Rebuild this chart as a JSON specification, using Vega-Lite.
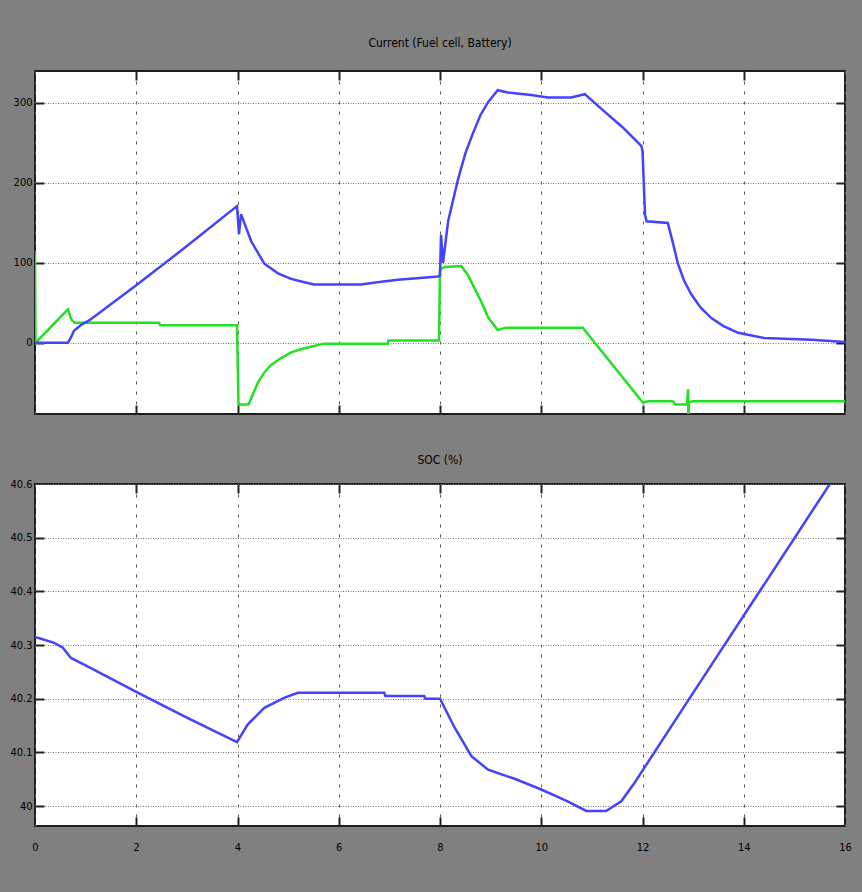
{
  "$schema": "https://vega.github.io/schema/vega-lite/v6.json",
  "background": "#808080",
  "padding": {"left": 7, "top": 36, "right": 18, "bottom": 28},
  "spacing": 35,
  "config": {
    "view": {"stroke": "#1e1e1e", "strokeWidth": 2, "fill": "white"},
    "font": "Liberation Sans Narrow, DejaVu Sans Condensed, Arial Narrow, sans-serif",
    "title": {"fontSize": 12, "fontWeight": "normal", "color": "#000", "anchor": "middle", "frame": "group", "font": "Liberation Sans Narrow, DejaVu Sans Condensed, sans-serif"},
    "axis": {"labelFont": "Liberation Sans Narrow, DejaVu Sans Condensed, sans-serif", "labelFontSize": 11, "labelColor": "#000", "title": null, "domain": false, "ticks": false}
  },
  "datasets": {
    "current": [
      {"t": 0, "value": 115, "series": "Battery"},
      {"t": 0.01, "value": 0, "series": "Battery"},
      {"t": 0.65, "value": 42, "series": "Battery"},
      {"t": 0.72, "value": 29, "series": "Battery"},
      {"t": 0.78, "value": 25, "series": "Battery"},
      {"t": 2.45, "value": 25, "series": "Battery"},
      {"t": 2.47, "value": 22, "series": "Battery"},
      {"t": 3.99, "value": 22, "series": "Battery"},
      {"t": 4.02, "value": -77, "series": "Battery"},
      {"t": 4.22, "value": -77, "series": "Battery"},
      {"t": 4.3, "value": -65, "series": "Battery"},
      {"t": 4.4, "value": -50, "series": "Battery"},
      {"t": 4.53, "value": -37, "series": "Battery"},
      {"t": 4.66, "value": -28, "series": "Battery"},
      {"t": 4.86, "value": -19, "series": "Battery"},
      {"t": 5.06, "value": -12, "series": "Battery"},
      {"t": 5.3, "value": -7, "series": "Battery"},
      {"t": 5.51, "value": -4, "series": "Battery"},
      {"t": 5.71, "value": -1, "series": "Battery"},
      {"t": 6.97, "value": -1, "series": "Battery"},
      {"t": 6.98, "value": 3, "series": "Battery"},
      {"t": 7.98, "value": 3, "series": "Battery"},
      {"t": 8.0, "value": 92, "series": "Battery"},
      {"t": 8.1, "value": 95, "series": "Battery"},
      {"t": 8.42, "value": 96, "series": "Battery"},
      {"t": 8.55, "value": 85, "series": "Battery"},
      {"t": 8.7, "value": 66, "series": "Battery"},
      {"t": 8.81, "value": 52, "series": "Battery"},
      {"t": 8.95, "value": 32, "series": "Battery"},
      {"t": 9.14, "value": 16, "series": "Battery"},
      {"t": 9.3, "value": 19, "series": "Battery"},
      {"t": 10.82, "value": 19, "series": "Battery"},
      {"t": 12.01, "value": -75, "series": "Battery"},
      {"t": 12.1, "value": -73, "series": "Battery"},
      {"t": 12.6, "value": -73, "series": "Battery"},
      {"t": 12.65, "value": -77, "series": "Battery"},
      {"t": 12.88, "value": -77, "series": "Battery"},
      {"t": 12.9, "value": -58, "series": "Battery"},
      {"t": 12.905, "value": -92, "series": "Battery"},
      {"t": 12.92, "value": -74, "series": "Battery"},
      {"t": 13.0, "value": -73, "series": "Battery"},
      {"t": 16, "value": -73, "series": "Battery"},
      {"t": 0, "value": 0, "series": "Fuel cell"},
      {"t": 0.65, "value": 0, "series": "Fuel cell"},
      {"t": 0.72, "value": 8, "series": "Fuel cell"},
      {"t": 0.77, "value": 15, "series": "Fuel cell"},
      {"t": 0.9, "value": 22, "series": "Fuel cell"},
      {"t": 1.07, "value": 28, "series": "Fuel cell"},
      {"t": 2, "value": 72, "series": "Fuel cell"},
      {"t": 3, "value": 121, "series": "Fuel cell"},
      {"t": 3.99, "value": 171, "series": "Fuel cell"},
      {"t": 4.03, "value": 136, "series": "Fuel cell"},
      {"t": 4.07, "value": 161, "series": "Fuel cell"},
      {"t": 4.27, "value": 127, "series": "Fuel cell"},
      {"t": 4.53, "value": 99, "series": "Fuel cell"},
      {"t": 4.8, "value": 87, "series": "Fuel cell"},
      {"t": 5.06, "value": 80, "series": "Fuel cell"},
      {"t": 5.3, "value": 76, "series": "Fuel cell"},
      {"t": 5.51, "value": 73, "series": "Fuel cell"},
      {"t": 6.44, "value": 73, "series": "Fuel cell"},
      {"t": 6.8, "value": 76, "series": "Fuel cell"},
      {"t": 7.17, "value": 79, "series": "Fuel cell"},
      {"t": 7.6, "value": 81, "series": "Fuel cell"},
      {"t": 7.96, "value": 83, "series": "Fuel cell"},
      {"t": 8.0, "value": 84, "series": "Fuel cell"},
      {"t": 8.02, "value": 135, "series": "Fuel cell"},
      {"t": 8.06, "value": 100, "series": "Fuel cell"},
      {"t": 8.16, "value": 152, "series": "Fuel cell"},
      {"t": 8.35, "value": 203, "series": "Fuel cell"},
      {"t": 8.5, "value": 237, "series": "Fuel cell"},
      {"t": 8.65, "value": 262, "series": "Fuel cell"},
      {"t": 8.8, "value": 285, "series": "Fuel cell"},
      {"t": 8.95, "value": 301, "series": "Fuel cell"},
      {"t": 9.14, "value": 316, "series": "Fuel cell"},
      {"t": 9.34, "value": 313, "series": "Fuel cell"},
      {"t": 9.8, "value": 310, "series": "Fuel cell"},
      {"t": 10.13, "value": 307, "series": "Fuel cell"},
      {"t": 10.59, "value": 307, "series": "Fuel cell"},
      {"t": 10.86, "value": 311, "series": "Fuel cell"},
      {"t": 11.2, "value": 292, "series": "Fuel cell"},
      {"t": 11.6, "value": 270, "series": "Fuel cell"},
      {"t": 11.98, "value": 246, "series": "Fuel cell"},
      {"t": 12.0, "value": 240, "series": "Fuel cell"},
      {"t": 12.05, "value": 160, "series": "Fuel cell"},
      {"t": 12.08, "value": 152, "series": "Fuel cell"},
      {"t": 12.5, "value": 150, "series": "Fuel cell"},
      {"t": 12.6, "value": 125, "series": "Fuel cell"},
      {"t": 12.7, "value": 99, "series": "Fuel cell"},
      {"t": 12.82, "value": 78, "series": "Fuel cell"},
      {"t": 12.96, "value": 61, "series": "Fuel cell"},
      {"t": 13.15, "value": 44, "series": "Fuel cell"},
      {"t": 13.36, "value": 31, "series": "Fuel cell"},
      {"t": 13.6, "value": 21, "series": "Fuel cell"},
      {"t": 13.89, "value": 12.5, "series": "Fuel cell"},
      {"t": 14.41, "value": 6, "series": "Fuel cell"},
      {"t": 15.34, "value": 4, "series": "Fuel cell"},
      {"t": 16, "value": 1, "series": "Fuel cell"}
    ],
    "soc": [
      {"t": 0, "soc": 40.315},
      {"t": 0.38, "soc": 40.304},
      {"t": 0.55, "soc": 40.295},
      {"t": 0.71, "soc": 40.276},
      {"t": 1.0, "soc": 40.262},
      {"t": 2.0, "soc": 40.213},
      {"t": 3.0, "soc": 40.165},
      {"t": 3.99, "soc": 40.119},
      {"t": 4.2, "soc": 40.152},
      {"t": 4.53, "soc": 40.183},
      {"t": 4.93, "soc": 40.202},
      {"t": 5.19, "soc": 40.211},
      {"t": 6.9, "soc": 40.211},
      {"t": 6.92, "soc": 40.205},
      {"t": 7.69, "soc": 40.205},
      {"t": 7.71, "soc": 40.2},
      {"t": 8.0, "soc": 40.2},
      {"t": 8.29, "soc": 40.146},
      {"t": 8.62, "soc": 40.093},
      {"t": 8.95, "soc": 40.068},
      {"t": 9.5, "soc": 40.05},
      {"t": 10.0, "soc": 40.031},
      {"t": 10.5, "soc": 40.01},
      {"t": 10.89, "soc": 39.991},
      {"t": 11.28, "soc": 39.991},
      {"t": 11.58, "soc": 40.009},
      {"t": 11.84, "soc": 40.043},
      {"t": 12.89, "soc": 40.195},
      {"t": 14.0, "soc": 40.355},
      {"t": 15.0, "soc": 40.499},
      {"t": 15.7, "soc": 40.6}
    ]
  },
  "vconcat": [
    {
      "title": {"text": "Current (Fuel cell, Battery)", "offset": 21},
      "width": 810,
      "height": 343,
      "resolve": {"axis": {"x": "independent", "y": "independent"}},
      "layer": [
        {
          "data": {"name": "current"},
          "mark": {"type": "line", "strokeWidth": 2.5, "clip": true},
          "encoding": {
            "x": {"field": "t", "type": "quantitative", "scale": {"domain": [0, 16], "nice": false},
              "axis": {"orient": "bottom", "values": [0, 2, 4, 6, 8, 10, 12, 14, 16], "labels": false, "grid": true, "gridColor": "#555", "gridDash": [3, 7], "gridWidth": 1, "minExtent": 0, "maxExtent": 0}},
            "y": {"field": "value", "type": "quantitative", "scale": {"domain": [-89, 340], "nice": false, "zero": false},
              "axis": {"orient": "left", "values": [0, 100, 200, 300], "grid": true, "gridColor": "#777", "gridDash": [1, 1.5], "gridWidth": 1, "labelPadding": 3, "minExtent": 27, "maxExtent": 27}},
            "color": {"field": "series", "type": "nominal", "scale": {"domain": ["Battery", "Fuel cell"], "range": ["#22e022", "#4343ff"]}, "legend": null}
          }
        },
        {
          "data": {"name": "current"},
          "mark": {"type": "line", "strokeOpacity": 0},
          "encoding": {
            "x": {"field": "t", "type": "quantitative", "axis": {"orient": "top", "values": [2, 4, 6, 8, 10, 12, 14], "labels": false, "grid": true, "gridColor": "#222", "gridWidth": 2, "gridDash": [9, 325, 9, 100], "minExtent": 0, "maxExtent": 0}},
            "y": {"field": "value", "type": "quantitative", "axis": {"orient": "right", "values": [0, 100, 200, 300], "labels": false, "grid": true, "gridColor": "#222", "gridWidth": 2, "gridDash": [9, 792, 9, 100], "minExtent": 0, "maxExtent": 0}},
            "detail": {"field": "series"}
          }
        }
      ]
    },
    {
      "title": {"text": "SOC (%)", "offset": 11},
      "width": 810,
      "height": 342,
      "resolve": {"axis": {"x": "independent", "y": "independent"}},
      "layer": [
        {
          "data": {"name": "soc"},
          "mark": {"type": "line", "strokeWidth": 2.5, "color": "#4343ff", "clip": true},
          "encoding": {
            "x": {"field": "t", "type": "quantitative", "scale": {"domain": [0, 16], "nice": false},
              "axis": {"orient": "bottom", "values": [0, 2, 4, 6, 8, 10, 12, 14, 16], "labelFlush": false, "labelPadding": 15, "grid": true, "gridColor": "#555", "gridDash": [3, 7], "gridWidth": 1, "minExtent": 40, "maxExtent": 40}},
            "y": {"field": "soc", "type": "quantitative", "scale": {"domain": [39.963, 40.6], "nice": false, "zero": false},
              "axis": {"orient": "left", "values": [40, 40.1, 40.2, 40.3, 40.4, 40.5, 40.6], "format": ".1~f", "grid": true, "gridColor": "#777", "gridDash": [1, 1.5], "gridWidth": 1, "labelPadding": 3, "minExtent": 27, "maxExtent": 27}}
          }
        },
        {
          "data": {"name": "soc"},
          "mark": {"type": "line", "strokeOpacity": 0},
          "encoding": {
            "x": {"field": "t", "type": "quantitative", "axis": {"orient": "top", "values": [2, 4, 6, 8, 10, 12, 14], "labels": false, "grid": true, "gridColor": "#222", "gridWidth": 2, "gridDash": [9, 324, 9, 100], "minExtent": 0, "maxExtent": 0}},
            "y": {"field": "soc", "type": "quantitative", "axis": {"orient": "right", "values": [40, 40.1, 40.2, 40.3, 40.4, 40.5], "labels": false, "grid": true, "gridColor": "#222", "gridWidth": 2, "gridDash": [9, 792, 9, 100], "minExtent": 0, "maxExtent": 0}}
          }
        }
      ]
    }
  ]
}
